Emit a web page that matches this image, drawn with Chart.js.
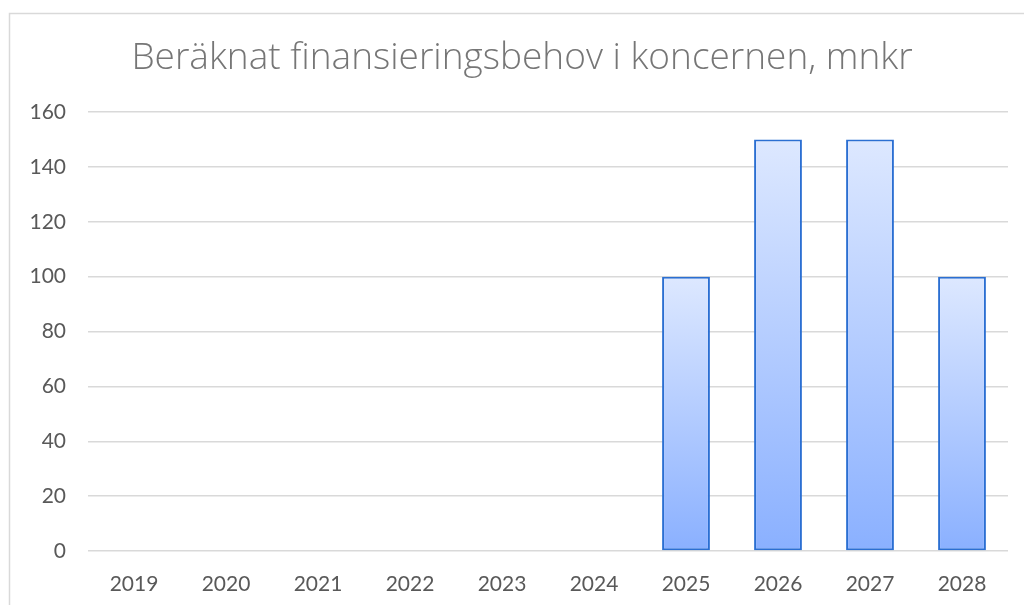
<!DOCTYPE html>
<html>
<head>
<meta charset="utf-8">
<script src="https://cdn.jsdelivr.net/npm/chart.js@4/dist/chart.umd.min.js"></script>
<style>
html,body{margin:0;padding:0;background:#fff;}
#wrap{width:1024px;height:605px;position:relative;}
</style>
</head>
<body>
<div id="wrap"><canvas id="c" width="1024" height="605"></canvas></div>
<script>
const categories = ['2019','2020','2021','2022','2023','2024','2025','2026','2027','2028'];
const values = [0,0,0,0,0,0,100,150,150,100];
const yTicks = [0,20,40,60,80,100,120,140,160];
const titleText = 'Beräknat finansieringsbehov i koncernen, mnkr';

const framePlugin = {
  id:'frame',
  beforeDraw(chart){
    const ctx = chart.ctx;
    ctx.save();
    ctx.fillStyle='#fff';
    ctx.fillRect(0,0,chart.width,chart.height);
    ctx.strokeStyle='#d9d9d9';
    ctx.lineWidth=1.5;
    ctx.beginPath();
    ctx.moveTo(9.5,chart.height+5);
    ctx.lineTo(9.5,13.5);
    ctx.lineTo(chart.width+5,13.5);
    ctx.stroke();
    ctx.restore();
  },
  afterDraw(chart){
    const ctx = chart.ctx;
    ctx.save();
    ctx.fillStyle='#767676';
    ctx.font='300 37px "Open Sans"';
    ctx.textAlign='center';
    ctx.textBaseline='alphabetic';
    ctx.fillText(titleText,522,69);
    ctx.restore();
  }
};

new Chart(document.getElementById('c'),{
  type:'bar',
  data:{labels:categories,datasets:[{
    data:values,
    borderColor:'#2b6fd2',
    borderWidth:2,
    borderSkipped:false,
    categoryPercentage:1,
    barPercentage:0.52,
    backgroundColor(ctx){
      const chart=ctx.chart; const y=chart.scales.y;
      if(!y||ctx.parsed===undefined) return '#b0c9fd';
      const top=y.getPixelForValue(ctx.parsed.y), bot=y.getPixelForValue(0);
      if(!isFinite(top)||top===bot) return '#b0c9fd';
      const g=chart.ctx.createLinearGradient(0,top,0,bot);
      g.addColorStop(0,'#dde8ff');
      g.addColorStop(1,'#8ab0ff');
      return g;
    }
  }]},
  options:{
    responsive:false,animation:false,
    layout:{padding:{left:20,right:16,top:112,bottom:8}},
    plugins:{
      legend:{display:false},tooltip:{enabled:false},
      title:{display:false}
    },
    scales:{
      x:{
        grid:{display:false,drawTicks:false},
        border:{display:false},
        afterFit(axis){axis.height=46;},
        ticks:{color:'#595959',font:{family:'Lato',size:21},padding:21}
      },
      y:{
        min:0,max:160,
        afterBuildTicks(axis){axis.ticks=yTicks.map(v=>({value:v}));},
        afterFit(axis){axis.width=68;},
        grid:{color:'#d9d9d9',lineWidth:1.5,drawTicks:true,tickLength:22,tickColor:'rgba(0,0,0,0)'},
        border:{display:false},
        ticks:{color:'#595959',font:{family:'Lato',size:21},padding:0}
      }
    }
  },
  plugins:[framePlugin]
});
</script>
</body>
</html>
